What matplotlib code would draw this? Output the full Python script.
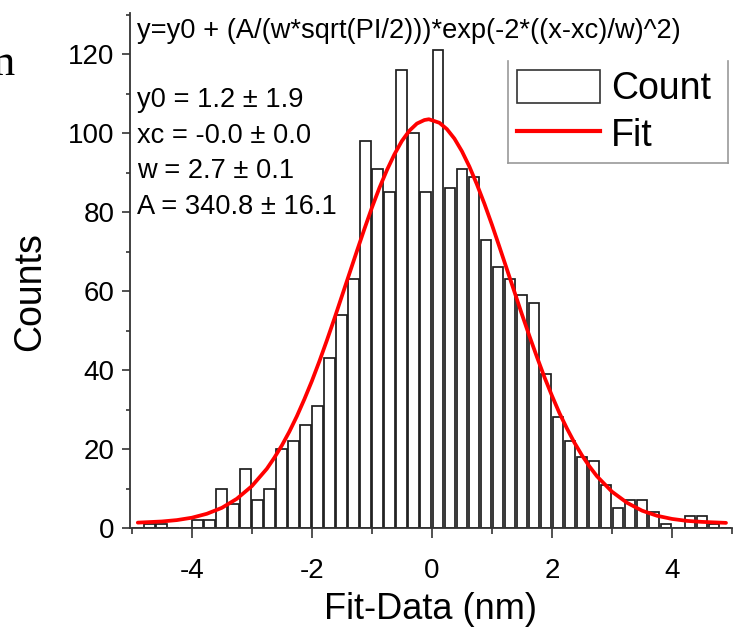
import matplotlib
matplotlib.use("Agg")
import matplotlib.pyplot as plt
from matplotlib.patches import Rectangle
from matplotlib.lines import Line2D

plt.rcParams['font.family'] = ['Liberation Sans', 'DejaVu Sans']
plt.rcParams['axes.unicode_minus'] = False

# ---- data ----
bin_centers = [-4.9, -4.7, -4.5, -4.3, -4.1, -3.9, -3.7, -3.5, -3.3, -3.1,
               -2.9, -2.7, -2.5, -2.3, -2.1, -1.9, -1.7, -1.5, -1.3, -1.1,
               -0.9, -0.7, -0.5, -0.3, -0.1, 0.1, 0.3, 0.5, 0.7, 0.9,
               1.1, 1.3, 1.5, 1.7, 1.9, 2.1, 2.3, 2.5, 2.7, 2.9,
               3.1, 3.3, 3.5, 3.7, 3.9, 4.1, 4.3, 4.5, 4.7, 4.9]
counts = [0, 1, 1, 0, 0, 2, 2, 10, 6, 15,
          7, 10, 20, 22, 26, 31, 43, 54, 63, 98,
          91, 85, 116, 100, 85, 121, 86, 91, 89, 73,
          66, 63, 59, 57, 39, 28, 22, 18, 17, 11,
          5, 7, 7, 4, 1, 0, 3, 3, 1, 0]

fit_x = [-4.9, -4.5, -4.25, -4.0, -3.75, -3.5, -3.25, -3.0, -2.75, -2.625,
         -2.5, -2.375, -2.25, -2.125, -2.0, -1.875, -1.75, -1.625, -1.5, -1.375,
         -1.25, -1.125, -1.0, -0.875, -0.75, -0.625, -0.5, -0.375, -0.25, -0.125,
         -0.05, 0.125, 0.25, 0.375, 0.5, 0.625, 0.75, 0.875, 1.0, 1.125,
         1.25, 1.375, 1.5, 1.625, 1.75, 1.875, 2.0, 2.125, 2.25, 2.375,
         2.5, 2.625, 2.75, 3.0, 3.25, 3.5, 3.75, 4.0, 4.25, 4.5, 4.9]
fit_y = [1.36, 1.65, 2.0, 2.6, 3.6, 5.1, 7.4, 10.6, 15.0, 17.8,
         20.9, 24.4, 28.3, 32.6, 37.2, 42.2, 47.5, 53.0, 58.7, 64.4,
         70.1, 75.7, 81.1, 86.1, 90.6, 94.6, 98.0, 100.6, 102.4, 103.3,
         103.5, 102.6, 101.0, 98.6, 95.4, 91.5, 87.0, 82.1, 76.8, 71.2,
         65.5, 59.8, 54.1, 48.6, 43.3, 38.2, 33.5, 29.1, 25.2, 21.6,
         18.4, 15.6, 13.1, 9.2, 6.4, 4.4, 3.1, 2.3, 1.8, 1.55, 1.3]

x_ticks = [-4, -2, 0, 2, 4]
y_ticks = [0, 20, 40, 60, 80, 100, 120]

formula = "y=y0 + (A/(w*sqrt(PI/2)))*exp(-2*((x-xc)/w)^2)"
params = ["y0 = 1.2 \u00b1 1.9", "xc = -0.0 \u00b1 0.0",
          "w = 2.7 \u00b1 0.1", "A = 340.8 \u00b1 16.1"]

# ---- figure ----
W, H = 734, 635
fig = plt.figure(figsize=(W / 100, H / 100), dpi=100)


def fx(px):
    return px / W


def fy(py):
    return 1 - py / H


ax = fig.add_axes([fx(130), fy(528), fx(732) - fx(130), fy(13) - fy(528)])

ax.bar(bin_centers, counts, width=0.18, align='center', color='white',
       edgecolor='#1e1e1e', linewidth=1.25, zorder=2)
ax.plot(fit_x, fit_y, color='#ff0000', linewidth=2.7, zorder=3,
        solid_capstyle='round', solid_joinstyle='round')

ax.set_xlim(-5.03, 5.0)
ax.set_ylim(0, 130.4)
ax.set_xticks(x_ticks)
ax.set_xticks([-5, -3, -1, 1, 3, 5], minor=True)
ax.set_yticks(y_ticks)
ax.set_yticks([10, 30, 50, 70, 90, 110, 130], minor=True)

for s in ['top', 'right']:
    ax.spines[s].set_visible(False)
for s in ['left', 'bottom']:
    ax.spines[s].set_color('#333333')
    ax.spines[s].set_linewidth(1.3)

ax.tick_params(axis='x', which='major', direction='out', length=7.5, width=1.2,
               color='#333333', labelsize=20, pad=14)
ax.tick_params(axis='x', which='minor', direction='out', length=4, width=1.2,
               color='#333333')
ax.tick_params(axis='y', which='major', direction='out', length=6, width=1.2,
               color='#333333', labelsize=20, pad=5)
ax.tick_params(axis='y', which='minor', direction='out', length=3, width=1.2,
               color='#333333')

ax.set_xlabel("Fit-Data (nm)", fontsize=26)
ax.xaxis.set_label_coords(0.5, (528 - 592) / 515, transform=ax.transAxes)
ax.set_ylabel("Counts", fontsize=27)
ax.yaxis.set_label_coords((48 - 130) / 602, (528 - 292) / 515, transform=ax.transAxes)

# annotation text
fig.text(fx(137), fy(38), formula, fontsize=19.6, ha='left', va='baseline')
for i, p in enumerate(params):
    fig.text(fx(137), fy(107 + 35.6 * i), p, fontsize=19.6, ha='left', va='baseline')

# stray cropped letter at top-left
fig.text(fx(15), fy(75), "n", fontsize=32, family='Liberation Serif',
         ha='right', va='baseline')

# legend
h_bar = Rectangle((0, 0), 1, 1, facecolor='white', edgecolor='#333333', linewidth=1.2)
h_fit = Line2D([], [], color='#ff0000', linewidth=3)
leg = ax.legend([h_bar, h_fit], ["Count", "Fit"], loc='upper left',
                bbox_to_anchor=(fx(508), fy(61)), bbox_transform=fig.transFigure,
                fontsize=27, frameon=False, handlelength=2.2, handleheight=0.95,
                handletextpad=0.3, labelspacing=0.25, borderpad=0.25,
                borderaxespad=0)
# legend frame without top edge
for (x0, y0, x1, y1) in [(508, 61, 508, 163), (508, 163, 728, 163), (728, 163, 728, 61)]:
    fig.add_artist(Line2D([fx(x0), fx(x1)], [fy(y0), fy(y1)], color='#999999',
                          linewidth=1.2, transform=fig.transFigure))

fig.savefig("out.png", dpi=100)
